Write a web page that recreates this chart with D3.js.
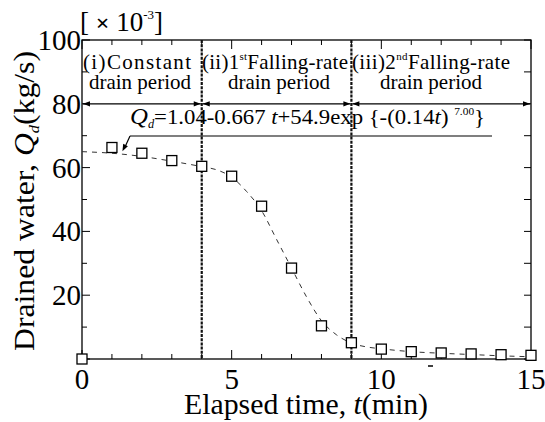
<!DOCTYPE html>
<html><head><meta charset="utf-8">
<script src="https://cdn.jsdelivr.net/npm/d3@7"></script>
</head><body style="margin:0"><div id="chart"></div>
<script>
// Measured data (kg/s x10^-3)
const timeMin = [0,1,2,3,4,5,6,7,8,9,10,11,12,13,14,15];
const drained = [0,66.3,64.5,62.2,60.4,57.3,47.9,28.5,10.4,5.1,3.1,2.3,1.9,1.6,1.35,1.15];
// Fitted curve
const fitT = [0,1,2,3,4,4.5,5,5.5,6,6.5,7,7.5,8,8.5,9,9.5,10,11,12,13,14,15];
const fitQ = [65,64.5,63.5,62,60.3,59.3,57,52.5,46.5,37.5,28.5,19.5,12,7.6,5,3.8,3.2,2.3,1.8,1.4,1.0,0.7];
const xTicks = [0,5,10,15];
const yTicks = [20,40,60,80,100];
const periodBounds = [0,4,9,15];

const FAM='"Times New Roman"';
const W=545,H=422;
const x=d3.scaleLinear().domain([0,15]).range([82,531]);
const y=d3.scaleLinear().domain([0,100]).range([359,40]);
const svg=d3.select("#chart").append("svg").attr("width",W).attr("height",H);

function T(){return svg.append("text").style("font-family",FAM);}
function arrowHead(tx,ty,fx,fy){ // tip at (tx,ty), coming from (fx,fy)
 const a=Math.atan2(ty-fy,tx-fx), L=7, hw=2.6;
 const bx=tx-L*Math.cos(a), by=ty-L*Math.sin(a);
 const px=-Math.sin(a)*hw, py=Math.cos(a)*hw;
 svg.append("path").attr("d",`M${tx},${ty}L${bx+px},${by+py}L${bx-px},${by-py}Z`).attr("fill","#000");
}

// frame
svg.append("rect").attr("x",x(0)).attr("y",y(100)).attr("width",x(15)-x(0)).attr("height",y(0)-y(100))
 .attr("fill","none").attr("stroke","#000").attr("stroke-width",1.3);

// ticks
const minorX=d3.range(0,16,1), minorY=d3.range(0,101,10);
const tk=svg.append("g").attr("stroke","#000").attr("stroke-width",1);
minorX.forEach(v=>{const L=(v%5===0)?9:5;
 tk.append("line").attr("x1",x(v)).attr("x2",x(v)).attr("y1",y(0)).attr("y2",y(0)-L);
 tk.append("line").attr("x1",x(v)).attr("x2",x(v)).attr("y1",y(100)).attr("y2",y(100)+L);});
minorY.forEach(v=>{const L=(v%20===0)?8:5;
 tk.append("line").attr("y1",y(v)).attr("y2",y(v)).attr("x1",x(0)).attr("x2",x(0)+L);
 tk.append("line").attr("y1",y(v)).attr("y2",y(v)).attr("x1",x(15)).attr("x2",x(15)-7);});

// tick labels using scales
xTicks.forEach(v=>T().attr("x",x(v)).attr("y",y(0)+30).attr("text-anchor","middle").attr("font-size",29).text(String(v)));
yTicks.forEach(v=>T().attr("x",x(0)-1).attr("y",y(v)+10).attr("text-anchor","end").attr("font-size",29).text(String(v)));

// period boundaries
svg.selectAll(".pb").data(periodBounds.slice(1,3)).enter().append("line")
 .attr("x1",d=>x(d)).attr("x2",d=>x(d)).attr("y1",y(100)).attr("y2",y(0))
 .attr("stroke","#111").attr("stroke-width",2.2).attr("stroke-dasharray","3,1.2");

// double arrows at 80
for(let i=0;i<3;i++){
 const a=x(periodBounds[i])+1, b=x(periodBounds[i+1])-1, yy=y(80);
 svg.append("line").attr("x1",a).attr("x2",b).attr("y1",yy).attr("y2",yy).attr("stroke","#000").attr("stroke-width",1.2);
 arrowHead(a,yy,a+10,yy); arrowHead(b,yy,b-10,yy);
}

// period labels
function lbl(xc,yy,parts,len){
 const t=T().attr("x",xc).attr("y",yy).attr("font-size",21);
 parts.forEach(p=>{const s=t.append("tspan").text(p.t);
  if(p.sup){s.attr("font-size",11).attr("dy",-9);} if(p.after){s.attr("dy",9);} });
 if(len) t.attr("textLength",len).attr("lengthAdjust","spacing");
 return t;
}
lbl(83,69,[{t:"(i)Constant"}],108);
lbl(202,69,[{t:"(ii)1"},{t:"st",sup:1},{t:"Falling-rate",after:1}],146);
lbl(352,69,[{t:"(iii)2"},{t:"nd",sup:1},{t:"Falling-rate",after:1}],158);
[140,279,431].forEach(c=>T().attr("x",c).attr("y",89).attr("text-anchor","middle").attr("font-size",21).text("drain period"));

// fitted curve
svg.append("path").datum(fitT.map((t,i)=>[t,fitQ[i]]))
 .attr("d",d3.line().x(d=>x(d[0])).y(d=>y(d[1])).curve(d3.curveMonotoneX))
 .attr("fill","none").attr("stroke","#333").attr("stroke-width",1).attr("stroke-dasharray","5,5");

// data squares
const sz=10;
svg.selectAll(".sq").data(timeMin.map((t,i)=>[t,drained[i]])).enter().append("rect")
 .attr("x",d=>x(d[0])-sz/2).attr("y",d=>y(d[1])-sz/2).attr("width",sz).attr("height",sz)
 .attr("fill","#fff").attr("stroke","#000").attr("stroke-width",1.3);

// equation
const eq=T().attr("x",130).attr("y",124).attr("font-size",22);
eq.append("tspan").attr("font-style","italic").attr("font-size",24).text("Q");
eq.append("tspan").attr("font-style","italic").attr("font-size",12).attr("dy",4).text("d");
eq.append("tspan").attr("dy",-4).text("=1.04-0.667 ");
eq.append("tspan").attr("font-style","italic").text("t");
eq.append("tspan").text("+54.9exp {-(0.14");
eq.append("tspan").attr("font-style","italic").text("t");
eq.append("tspan").text(") ");
eq.append("tspan").attr("font-size",11).attr("dy",-9).text("7.00");
eq.append("tspan").attr("dy",9).text("}");
eq.attr("textLength",355).attr("lengthAdjust","spacingAndGlyphs");
svg.append("line").attr("x1",130).attr("x2",492).attr("y1",136).attr("y2",136).attr("stroke","#000").attr("stroke-width",1.2);
const tipX=x(1.35), tipY=y(64.5)-2;
svg.append("line").attr("x1",130).attr("y1",136).attr("x2",tipX+2).attr("y2",tipY-3).attr("stroke","#000").attr("stroke-width",1.2);
arrowHead(tipX,tipY,130,136);

// multiplier: [ x 10^-3 ]
const mt=T().attr("x",80).attr("y",31).attr("font-size",27);
mt.append("tspan").text("[ ");
mt.append("tspan").attr("font-weight","bold").attr("font-size",24).text("\u00D7");
mt.append("tspan").text(" 10");
mt.append("tspan").attr("font-size",13).attr("dy",-12).text("-3");
mt.append("tspan").attr("dy",12).text("]");

// axis titles
T().attr("x",306).attr("y",414).attr("text-anchor","middle").attr("font-size",29)
 .call(t=>{t.append("tspan").text("Elapsed time, ");t.append("tspan").attr("font-style","italic").text("t");t.append("tspan").text("(min)");})
 .attr("textLength",244).attr("lengthAdjust","spacingAndGlyphs");
T().attr("transform","translate(34,201) rotate(-90)").attr("text-anchor","middle").attr("font-size",29)
 .call(t=>{t.append("tspan").text("Drained water, ");t.append("tspan").attr("font-style","italic").text("Q");
  t.append("tspan").attr("font-style","italic").attr("font-size",15).attr("dy",5).text("d");
  t.append("tspan").attr("dy",-5).text("(kg/s)");})
 .attr("textLength",300).attr("lengthAdjust","spacingAndGlyphs");
// small stray mark below axis
svg.append("line").attr("x1",428).attr("x2",433).attr("y1",366).attr("y2",366).attr("stroke","#000").attr("stroke-width",1.5);
</script></body></html>
